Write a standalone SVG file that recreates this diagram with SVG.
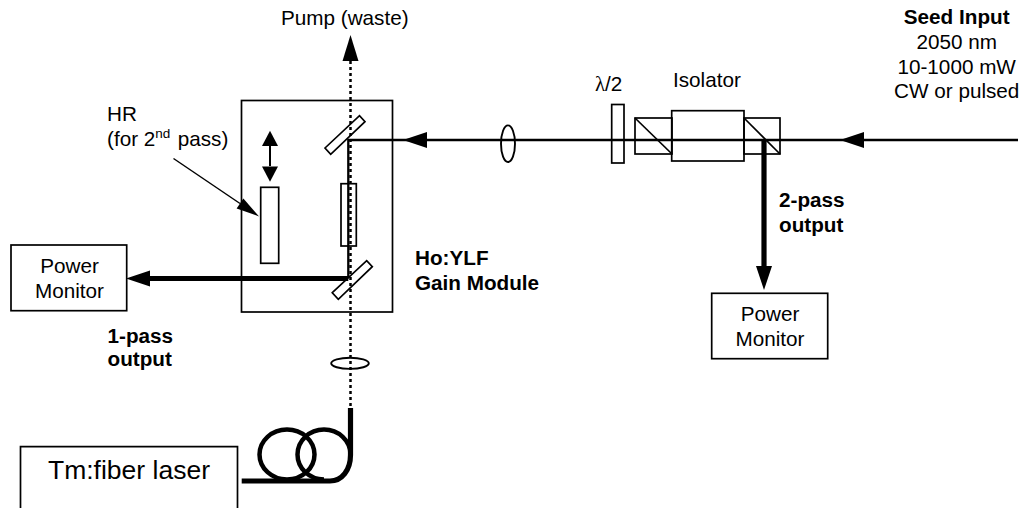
<svg xmlns="http://www.w3.org/2000/svg" width="1023" height="508" viewBox="0 0 1023 508">
<style>
text{font-family:"Liberation Sans",Arial,sans-serif;font-size:20.7px;fill:#000}
.b{font-weight:bold}
.m{text-anchor:middle}
.box{fill:none;stroke:#000;stroke-width:1.7}
.el{fill:none;stroke:#000;stroke-width:1.9}
.beam{fill:none;stroke:#000;stroke-width:2.3}
.thick{fill:none;stroke:#000;stroke-width:5.2}
.dot{fill:none;stroke:#000;stroke-width:2.5;stroke-dasharray:3 3}
</style>
<defs>
<marker id="ah" markerUnits="userSpaceOnUse" markerWidth="26" markerHeight="18" refX="0" refY="8" orient="auto" overflow="visible"><path d="M0,0L24,8L0,16Z" fill="#000"/></marker>
<marker id="ahp" markerUnits="userSpaceOnUse" markerWidth="26" markerHeight="14" refX="0" refY="6" orient="auto" overflow="visible"><path d="M0,0L23,6L0,12Z" fill="#000"/></marker>
</defs>
<g id="connectors">
<path class="dot" d="M350.5,61V407"/>
<path d="M350.5,35L358.5,61H342.5Z" fill="#000"/>
<path class="beam" d="M1018,140H864" marker-end="url(#ah)"/>
<path class="beam" d="M864,140H427" marker-end="url(#ah)"/>
<path class="beam" d="M427,140H348.3V278"/>
<path class="thick" d="M348.3,278.5H150" marker-end="url(#ah)"/>
<path class="thick" d="M764,140V266" marker-end="url(#ah)"/>
<path class="box" style="stroke-width:2" d="M270,146V166"/>
<path d="M270,130.7L278,146H262Z" fill="#000"/>
<path d="M270,181.7L278,166.5H262Z" fill="#000"/>
<path fill="none" stroke="#000" stroke-width="1.5" d="M173.5,158.5L240,203.5" marker-end="url(#ahp)"/>
<path class="thick" d="M241.7,481H330C342,481 350.5,470 350.5,455V408"/>
<ellipse cx="287" cy="454.5" rx="27.5" ry="25" fill="none" stroke="#000" stroke-width="4.5"/>
<path fill="none" stroke="#000" stroke-width="4.5" d="M350.5,454.5A26.5,25 0 1 0 324,479.5"/>
</g>
<g id="gain-module"><rect class="box" x="241.5" y="100.5" width="151" height="211.5"/></g>
<g id="top-mirror"><path class="box" d="M325,148L359.5,115.7L365,121.7L330.7,154.3Z"/></g>
<g id="bottom-mirror"><path class="box" d="M332.3,292.7L366.7,260.7L372.3,266.7L338.3,299.3Z"/></g>
<g id="crystal"><rect class="box" x="341" y="183.7" width="15.3" height="62.3"/></g>
<g id="hr-mirror"><rect class="box" x="260.7" y="187.3" width="18" height="76"/></g>
<g id="lens-seed"><ellipse class="el" cx="508" cy="143.7" rx="7" ry="18.3"/></g>
<g id="lens-pump"><ellipse class="el" cx="350" cy="363.3" rx="18.8" ry="5.6"/></g>
<g id="waveplate"><rect class="box" x="611.7" y="104.5" width="12.3" height="58.5"/></g>
<g id="isolator">
<rect class="box" x="635" y="118" width="37" height="36"/>
<path class="box" d="M635,118L672,154"/>
<rect class="box" x="671.7" y="110.7" width="72.3" height="50.3"/>
<rect class="box" x="744" y="118" width="36" height="36"/>
<path class="box" d="M744,118L780,154"/>
</g>
<g id="power-monitor-1"><rect class="box" x="11" y="245" width="115.7" height="65.7"/>
<text class="m" x="69.5" y="273.3">Power</text><text class="m" x="69.5" y="297.7">Monitor</text></g>
<g id="power-monitor-2"><rect class="box" x="711.7" y="293.3" width="116" height="65.4"/>
<text class="m" x="770" y="321">Power</text><text class="m" x="770" y="346">Monitor</text></g>
<g id="laser"><path class="box" d="M20.5,508V446.7H237.5V508"/>
<text class="m" x="129" y="479" style="font-size:26.5px">Tm:fiber laser</text></g>
<g id="labels">
<text x="281" y="25">Pump (waste)</text>
<text x="107" y="121">HR</text>
<text x="107" y="146">(for 2<tspan dy="-8" style="font-size:13.5px">nd</tspan><tspan dy="8" x="172"> pass)</tspan></text>
<text class="b" x="107.5" y="342.7">1-pass</text><text class="b" x="107.5" y="366">output</text>
<text class="b" x="415" y="265">Ho:YLF</text><text class="b" x="415" y="290">Gain Module</text>
<text class="b" x="779" y="207.3">2-pass</text><text class="b" x="779" y="231.7">output</text>
<text class="b m" x="956.7" y="24">Seed Input</text>
<text class="m" x="956.7" y="49">2050 nm</text>
<text class="m" x="956.7" y="74">10-1000 mW</text>
<text class="m" x="956.7" y="98">CW or pulsed</text>
<text x="673" y="86.7">Isolator</text>
<text x="595" y="91"><tspan style="font-family:'Liberation Serif',serif">λ</tspan>/2</text>
</g>
</svg>
